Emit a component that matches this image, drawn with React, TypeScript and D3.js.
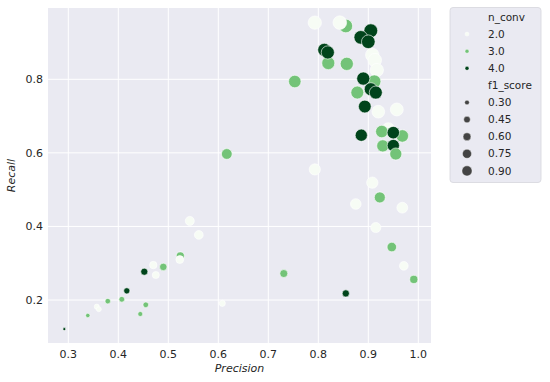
import React from 'react';
import * as d3 from 'd3';

// one entry per run: precision, recall, n_conv (drawing order kept as in the plot)
const precision = [
  0.855, 0.793, 0.843, 0.908, 0.913, 0.917, 0.92, 0.957, 0.793, 0.908,
  0.875, 0.968, 0.915, 0.543, 0.561, 0.524, 0.523, 0.47, 0.475, 0.971,
  0.608, 0.357, 0.361, 0.94,
  0.82, 0.857, 0.753, 0.912, 0.878, 0.927, 0.968, 0.929, 0.617, 0.923,
  0.947, 0.731, 0.991, 0.49, 0.407, 0.379, 0.455, 0.444, 0.339,
  0.905, 0.885, 0.9, 0.812, 0.819, 0.89, 0.905, 0.915, 0.893, 0.886,
  0.95, 0.95, 0.855, 0.452, 0.417, 0.292,
  0.955,
];
const recall = [
  0.945, 0.954, 0.954, 0.866, 0.852, 0.825, 0.712, 0.718, 0.555, 0.519,
  0.461, 0.451, 0.397, 0.415, 0.377, 0.32, 0.31, 0.295, 0.268, 0.293,
  0.191, 0.182, 0.175, 0.665,
  0.844, 0.842, 0.794, 0.794, 0.764, 0.658, 0.646, 0.619, 0.597, 0.479,
  0.344, 0.272, 0.256, 0.29, 0.202, 0.197, 0.187, 0.162, 0.158,
  0.932, 0.914, 0.902, 0.88, 0.873, 0.802, 0.773, 0.764, 0.726, 0.648,
  0.655, 0.62, 0.218, 0.277, 0.225, 0.121,
  0.597,
];
const nConv = [
  3, 2, 2, 2, 2, 2, 2, 2, 2, 2,
  2, 2, 2, 2, 2, 3, 2, 2, 2, 2,
  2, 2, 2, 2,
  3, 3, 3, 3, 3, 3, 3, 3, 3, 3,
  3, 3, 3, 3, 3, 3, 3, 3, 3,
  4, 4, 4, 4, 4, 4, 4, 4, 4, 4,
  4, 4, 4, 4, 4, 4,
  3,
];

const xTicks = [0.3, 0.4, 0.5, 0.6, 0.7, 0.8, 0.9, 1.0];
const yTicks = [0.2, 0.4, 0.6, 0.8];
const convLevels = [2, 3, 4];
const f1Levels = [0.3, 0.45, 0.6, 0.75, 0.9];

const f1 = (p: number, r: number) => (2 * p * r) / (p + r);

export default function App() {
  const width = 550;
  const height = 382;
  const plot = { left: 48, right: 431, top: 8, bottom: 343 };

  const x = d3.scaleLinear().domain([0.2594, 1.0254]).range([plot.left, plot.right]);
  const y = d3.scaleLinear().domain([0.0832, 0.9938]).range([plot.bottom, plot.top]);

  const color = d3.scaleSequential(d3.interpolateGreens).domain([2, 4]);

  const points = precision.map((p, i) => ({ p, r: recall[i], c: nConv[i], f: f1(p, recall[i]) }));
  const area = d3.scaleLinear()
    .domain([d3.min(points, d => d.f) as number, d3.max(points, d => d.f) as number])
    .range([7, 150]);
  const radius = (f: number) => Math.sqrt(area(f) / Math.PI);

  const font = 'DejaVu Sans, sans-serif';
  const textColor = '#262626';

  const legendX = 450;
  const legendTextX = 488;
  const legendMarkX = 467;
  const rowY = (i: number) => 17 + i * 17.1;

  return (
    <svg width={width} height={height} style={{ position: 'absolute', left: 0, top: 0 }} fontFamily={font}>
      <rect x={0} y={0} width={width} height={height} fill="#ffffff" />
      <rect x={plot.left} y={plot.top} width={plot.right - plot.left} height={plot.bottom - plot.top} fill="#eaeaf2" />
      {xTicks.map(t => (
        <line key={'gx' + t} x1={x(t)} x2={x(t)} y1={plot.top} y2={plot.bottom} stroke="#fff" strokeWidth={1} />
      ))}
      {yTicks.map(t => (
        <line key={'gy' + t} x1={plot.left} x2={plot.right} y1={y(t)} y2={y(t)} stroke="#fff" strokeWidth={1} />
      ))}
      {points.map((d, i) => (
        <circle key={i} cx={x(d.p)} cy={y(d.r)} r={radius(d.f)} fill={color(d.c)} stroke="#fff" strokeWidth={0.6} />
      ))}
      {xTicks.map(t => (
        <text key={'tx' + t} x={x(t)} y={358} textAnchor="middle" fontSize={11} fill={textColor}>
          {d3.format('.1f')(t)}
        </text>
      ))}
      {yTicks.map(t => (
        <text key={'ty' + t} x={43} y={y(t)} dy="0.35em" textAnchor="end" fontSize={11} fill={textColor}>
          {d3.format('.1f')(t)}
        </text>
      ))}
      <text x={(plot.left + plot.right) / 2} y={372} textAnchor="middle" fontSize={11} fontStyle="italic" fill={textColor}>
        Precision
      </text>
      <text transform={`translate(15,${(plot.top + plot.bottom) / 2}) rotate(-90)`} textAnchor="middle" fontSize={11} fontStyle="italic" fill={textColor}>
        Recall
      </text>

      <rect x={legendX} y={7.5} width={91} height={175} rx={3} fill="#eaeaf2" stroke="#d6d6dc" strokeWidth={0.8} />
      <text x={legendTextX} y={rowY(0)} dy="0.35em" fontSize={10.5} fill={textColor}>n_conv</text>
      {convLevels.map((c, i) => (
        <g key={'lc' + c}>
          <circle cx={legendMarkX} cy={rowY(i + 1)} r={2} fill={color(c)} stroke="#fff" strokeWidth={0.4} />
          <text x={legendTextX} y={rowY(i + 1)} dy="0.35em" fontSize={10.5} fill={textColor}>{d3.format('.1f')(c)}</text>
        </g>
      ))}
      <text x={legendTextX} y={rowY(4)} dy="0.35em" fontSize={10.5} fill={textColor}>f1_score</text>
      {f1Levels.map((f, i) => (
        <g key={'lf' + f}>
          <circle cx={legendMarkX} cy={rowY(i + 5)} r={radius(f) * 0.74} fill="#444444" stroke="#fff" strokeWidth={0.4} />
          <text x={legendTextX} y={rowY(i + 5)} dy="0.35em" fontSize={10.5} fill={textColor}>{d3.format('.2f')(f)}</text>
        </g>
      ))}
    </svg>
  );
}
